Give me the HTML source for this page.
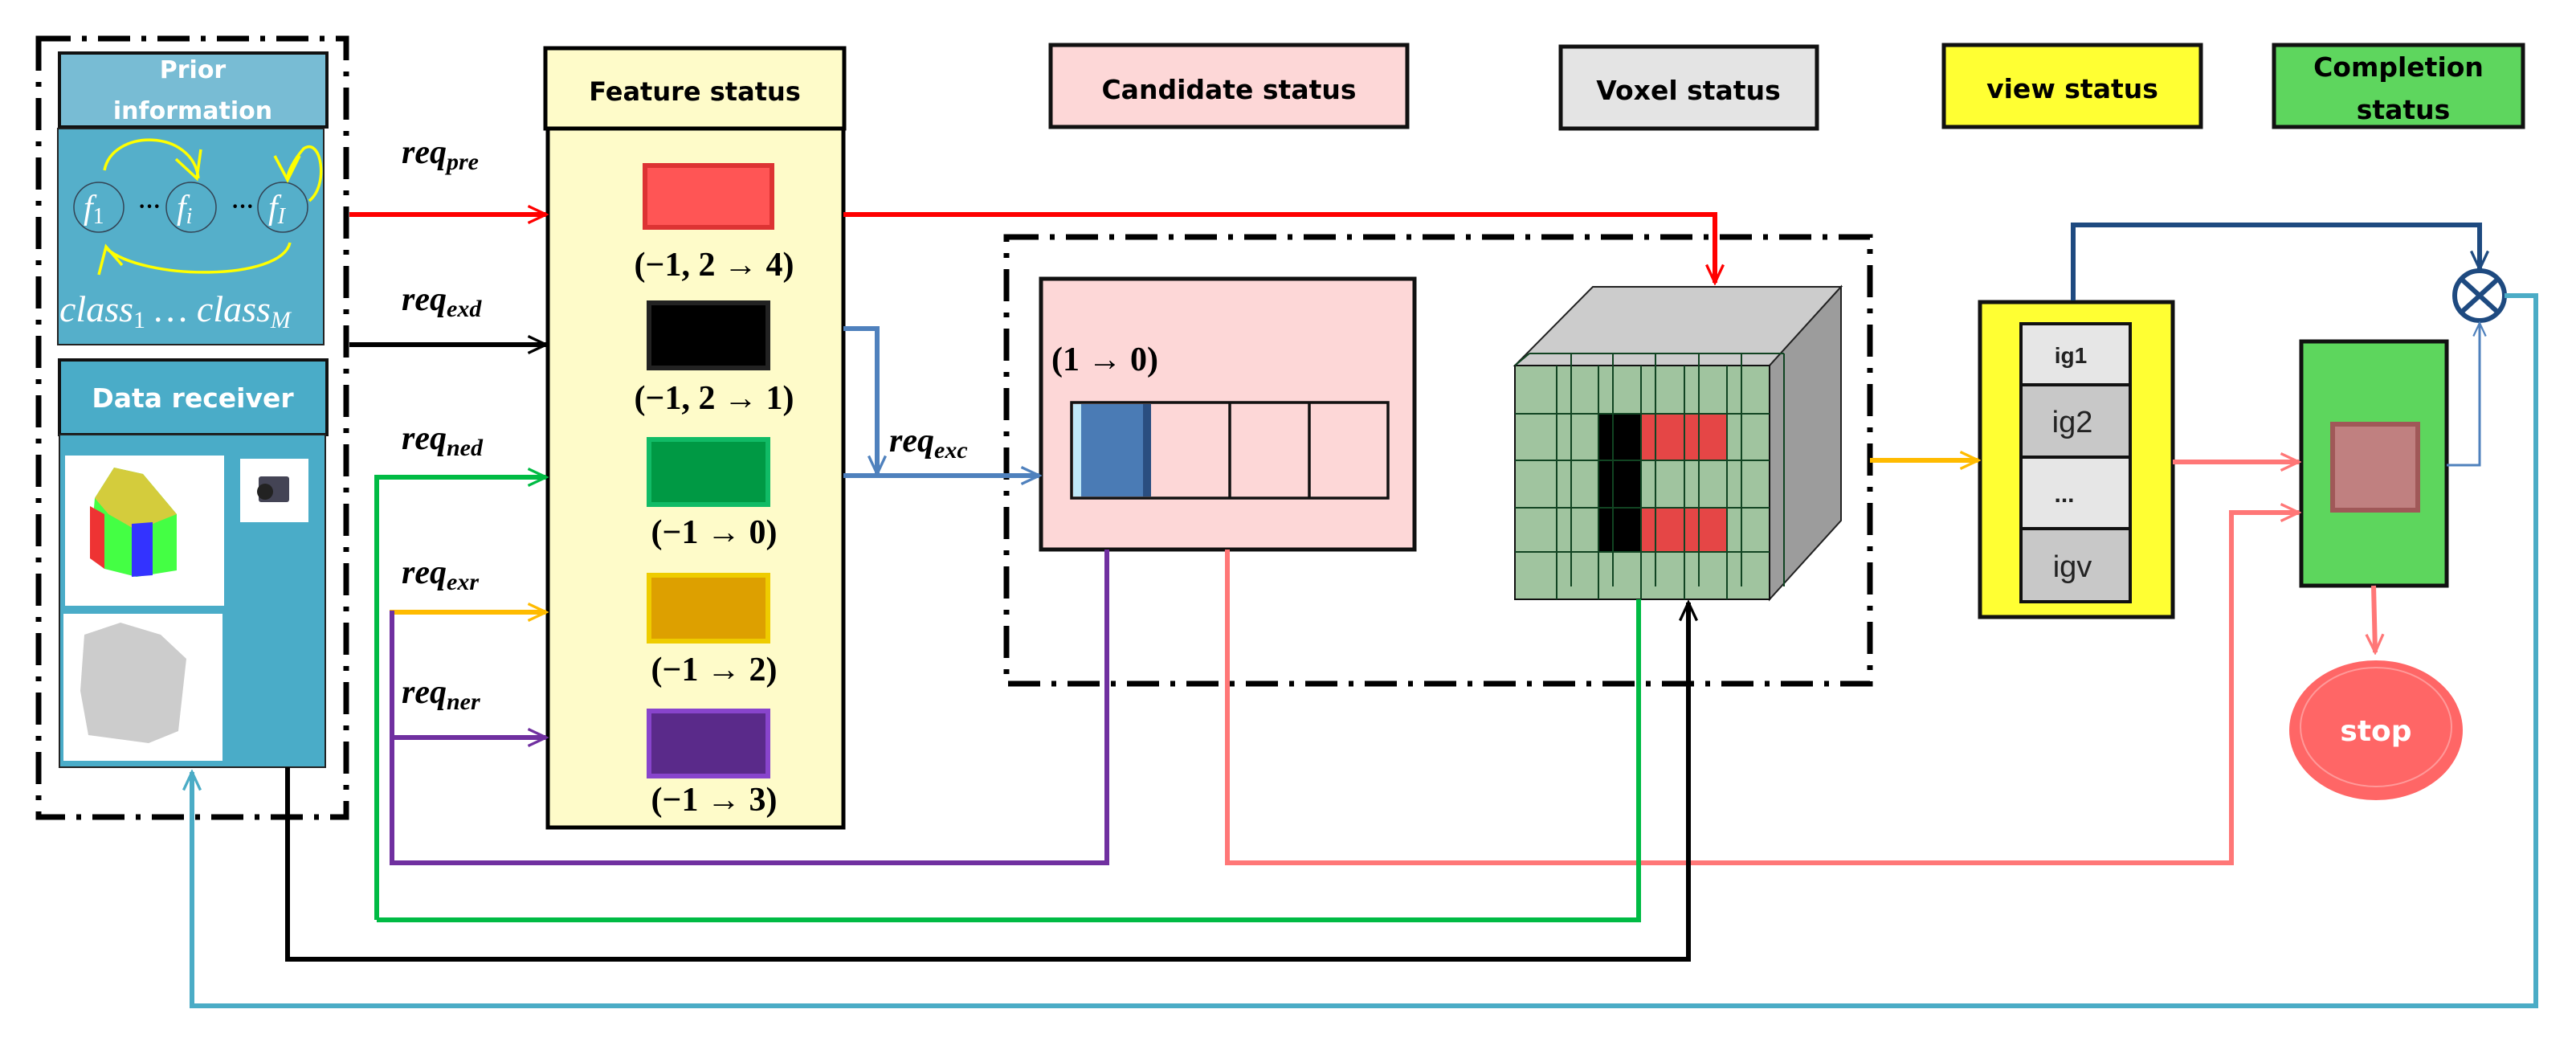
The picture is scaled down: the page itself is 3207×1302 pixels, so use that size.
<!DOCTYPE html>
<html><head><meta charset="utf-8"><style>
html,body{margin:0;padding:0;background:#fff;}
svg{display:block;}
.hb{font-family:"DejaVu Sans","Liberation Sans",sans-serif;font-weight:bold;}
.m{font-family:"Liberation Serif","DejaVu Serif",serif;font-weight:bold;}
.mi{font-family:"Liberation Serif","DejaVu Serif",serif;font-weight:bold;font-style:italic;}
</style></head><body>
<svg width="3207" height="1302" viewBox="0 0 3207 1302" xmlns="http://www.w3.org/2000/svg">
<defs>
<marker id="ah" viewBox="0 0 20 20" refX="18" refY="10" markerWidth="30" markerHeight="30" markerUnits="userSpaceOnUse" orient="auto"><path d="M3,3 L18,10 L3,17" fill="none" stroke="context-stroke" stroke-width="2.2"/></marker>
<marker id="ahs" viewBox="0 0 20 20" refX="18" refY="10" markerWidth="22" markerHeight="22" markerUnits="userSpaceOnUse" orient="auto"><path d="M3,3 L18,10 L3,17" fill="none" stroke="context-stroke" stroke-width="2"/></marker>
</defs>
<g fill="none" stroke-width="6">
<rect x="48" y="48" width="383" height="969" stroke="#000" stroke-width="7" stroke-dasharray="40,14,6,14"/>
<rect x="1253" y="295" width="1075" height="556" stroke="#000" stroke-width="7" stroke-dasharray="40,14,6,14"/>
</g>

<!-- Prior information -->
<rect x="74" y="66" width="333" height="92" fill="#78bcd4" stroke="#111" stroke-width="4"/>
<text x="240" y="97" class="hb" font-size="30" fill="#fff" text-anchor="middle">Prior</text>
<text x="240" y="148" class="hb" font-size="30" fill="#fff" text-anchor="middle">information</text>
<rect x="72" y="160" width="331" height="269" fill="#55afca" stroke="#222" stroke-width="2"/>
<g stroke="#345" stroke-width="1.5" fill="none"><circle cx="123" cy="258" r="31"/><circle cx="238" cy="258" r="31"/><circle cx="352" cy="258" r="31"/></g>
<g font-family="Liberation Serif,serif" font-style="italic" fill="#fff">
<text x="104" y="272" font-size="42">f<tspan font-size="28" font-style="normal" dy="6">1</tspan></text>
<text x="220" y="272" font-size="42">f<tspan font-size="28" dy="6">i</tspan></text>
<text x="334" y="272" font-size="42">f<tspan font-size="28" dy="6">I</tspan></text>
<text x="74" y="400" font-size="46">class<tspan font-size="30" font-style="normal" dy="8">1</tspan><tspan dy="-8"> … </tspan>class<tspan font-size="30" dy="8">M</tspan></text>
</g>
<text x="172" y="266" font-size="28" font-weight="bold" fill="#000">···</text>
<text x="288" y="266" font-size="28" font-weight="bold" fill="#000">···</text>
<g stroke="#ff0" stroke-width="3.5" fill="none">
<path d="M130,212 C140,160 240,160 247,222"/><path d="M219,198 L245,222 L250,186"/>
<path d="M385,250 C410,230 400,170 378,185 C365,200 358,215 358,222"/><path d="M342,194 L358,224 L373,194"/>
<path d="M361,302 C350,350 180,350 132,309"/><path d="M123,342 L132,307 L152,330"/>
</g>

<!-- Data receiver -->
<rect x="74" y="448" width="333" height="93" fill="#4aacc8" stroke="#111" stroke-width="4"/>
<text x="240" y="507" class="hb" font-size="33" fill="#fff" text-anchor="middle">Data receiver</text>
<rect x="74" y="541" width="331" height="414" fill="#4aacc8" stroke="#222" stroke-width="2"/>
<rect x="81" y="567" width="198" height="187" fill="#fff"/>
<polygon points="118,620 142,582 178,590 220,640 220,710 170,718 130,708 112,690" fill="#4f4"/>
<polygon points="118,620 142,582 178,590 220,640 170,660 135,640" fill="#d4cc3c"/>
<polygon points="112,630 130,640 130,708 112,695" fill="#e33"/>
<polygon points="164,652 190,650 190,716 164,718" fill="#33f"/>
<rect x="299" y="571" width="85" height="79" fill="#fff"/>
<rect x="322" y="593" width="38" height="32" fill="#445" rx="3"/><circle cx="330" cy="612" r="10" fill="#222"/>
<rect x="79" y="764" width="198" height="183" fill="#fff"/>
<polygon points="105,790 150,775 200,790 232,820 222,910 185,925 110,915 100,860" fill="#ccc"/>

<!-- Feature status -->
<rect x="679" y="60" width="372" height="100" fill="#fefbc9" stroke="#000" stroke-width="5"/>
<text x="865" y="125" class="hb" font-size="32" fill="#000" text-anchor="middle">Feature status</text>
<rect x="682" y="160" width="368" height="870" fill="#fefbc9" stroke="#000" stroke-width="5"/>
<g stroke-width="6">
<rect x="803" y="206" width="158" height="77" fill="#f55" stroke="#d33"/>
<rect x="808" y="377" width="148" height="81" fill="#000" stroke="#222"/>
<rect x="808" y="547" width="148" height="81" fill="#094" stroke="#1b6"/>
<rect x="808" y="716" width="148" height="82" fill="#dda000" stroke="#ec0"/>
<rect x="808" y="885" width="148" height="81" fill="#5a2a8a" stroke="#84c"/>
</g>
<g class="m" font-size="42" fill="#000" text-anchor="middle">
<text x="889" y="343">(−1, 2 → 4)</text>
<text x="889" y="509">(−1, 2 → 1)</text>
<text x="889" y="676">(−1 → 0)</text>
<text x="889" y="847">(−1 → 2)</text>
<text x="889" y="1009">(−1 → 3)</text>
</g>

<!-- req labels -->
<g class="mi" font-size="42" fill="#000">
<text x="500" y="203">req<tspan font-size="30" dy="8">pre</tspan></text>
<text x="500" y="386">req<tspan font-size="30" dy="8">exd</tspan></text>
<text x="500" y="559">req<tspan font-size="30" dy="8">ned</tspan></text>
<text x="500" y="726">req<tspan font-size="30" dy="8">exr</tspan></text>
<text x="500" y="875">req<tspan font-size="30" dy="8">ner</tspan></text>
<text x="1107" y="562">req<tspan font-size="30" dy="8">exc</tspan></text>
</g>

<!-- Candidate status -->
<rect x="1308" y="56" width="444" height="102" fill="#fdd7d7" stroke="#111" stroke-width="5"/>
<text x="1530" y="123" class="hb" font-size="33" fill="#000" text-anchor="middle">Candidate  status</text>
<rect x="1296" y="347" width="465" height="337" fill="#fdd7d7" stroke="#111" stroke-width="5"/>
<text x="1309" y="461" class="m" font-size="42" fill="#000">(1 → 0)</text>
<rect x="1334" y="501" width="394" height="119" fill="none" stroke="#111" stroke-width="3.5"/>
<line x1="1531" y1="501" x2="1531" y2="620" stroke="#111" stroke-width="3.5"/>
<line x1="1630" y1="501" x2="1630" y2="620" stroke="#111" stroke-width="3.5"/>
<rect x="1336" y="503" width="97" height="115" fill="#4a7bb5"/>
<rect x="1336" y="503" width="10" height="115" fill="#bfe8f8"/>
<rect x="1423" y="503" width="10" height="115" fill="#2a4e80"/>

<!-- Voxel status -->
<rect x="1943" y="58" width="319" height="102" fill="#e4e4e4" stroke="#111" stroke-width="5"/>
<text x="2102" y="124" class="hb" font-size="33" fill="#000" text-anchor="middle">Voxel status</text>
<polygon points="1886,455 1983,357 2292,357 2203,455" fill="#ccc" stroke="#222" stroke-width="2"/>
<polygon points="2203,455 2292,357 2292,648 2203,746" fill="#9c9c9c" stroke="#222" stroke-width="2"/>
<rect x="1886" y="455" width="317" height="291" fill="#a0c49f" stroke="#111" stroke-width="2"/>
<rect x="1990" y="515" width="53" height="172" fill="#000"/>
<rect x="2043" y="515" width="107" height="58" fill="#e54646"/>
<rect x="2043" y="632" width="107" height="55" fill="#e54646"/>
<g stroke="#142" stroke-width="2" fill="none">
<line x1="1938" y1="455" x2="1938" y2="746"/><line x1="1990" y1="455" x2="1990" y2="746"/><line x1="2043" y1="455" x2="2043" y2="746"/><line x1="2097" y1="455" x2="2097" y2="746"/><line x1="2150" y1="455" x2="2150" y2="746"/>
<line x1="1886" y1="515" x2="2203" y2="515"/><line x1="1886" y1="573" x2="2203" y2="573"/><line x1="1886" y1="632" x2="2203" y2="632"/><line x1="1886" y1="687" x2="2203" y2="687"/>
<line x1="1956" y1="440" x2="1956" y2="730"/><line x1="2008" y1="440" x2="2008" y2="730"/><line x1="2061" y1="440" x2="2061" y2="730"/><line x1="2115" y1="440" x2="2115" y2="730"/><line x1="2168" y1="440" x2="2168" y2="730"/><line x1="2221" y1="440" x2="2221" y2="730"/>
<line x1="1886" y1="455" x2="1904" y2="440"/><line x1="1904" y1="440" x2="2221" y2="440"/>
</g>

<!-- view status -->
<rect x="2420" y="56" width="320" height="102" fill="#ffff33" stroke="#111" stroke-width="5"/>
<text x="2580" y="122" class="hb" font-size="33" fill="#000" text-anchor="middle">view status</text>
<rect x="2465" y="376" width="240" height="392" fill="#ffff33" stroke="#111" stroke-width="5"/>
<g stroke="#111" stroke-width="4">
<rect x="2516" y="403" width="136" height="76" fill="#e6e6e6"/>
<rect x="2516" y="479" width="136" height="90" fill="#c8c8c8"/>
<rect x="2516" y="569" width="136" height="89" fill="#e6e6e6"/>
<rect x="2516" y="658" width="136" height="91" fill="#c8c8c8"/>
</g>
<g font-family="Liberation Sans,sans-serif" fill="#222" text-anchor="middle">
<text x="2578" y="452" font-size="28" font-weight="bold">ig1</text>
<text x="2580" y="538" font-size="38">ig2</text>
<text x="2570" y="625" font-size="30" font-weight="bold">...</text>
<text x="2580" y="718" font-size="38">igv</text>
</g>

<!-- Completion status -->
<rect x="2831" y="56" width="310" height="102" fill="#5ed65e" stroke="#111" stroke-width="5"/>
<text x="2986" y="95" class="hb" font-size="33" fill="#000" text-anchor="middle">Completion</text>
<text x="2992" y="148" class="hb" font-size="33" fill="#000" text-anchor="middle">status</text>
<rect x="2865" y="425" width="181" height="304" fill="#5dd65d" stroke="#111" stroke-width="5"/>
<rect x="2904" y="528" width="106" height="107" fill="#c08080" stroke="#a05858" stroke-width="6"/>
<ellipse cx="2958" cy="909" rx="108" ry="87" fill="#f66"/>
<ellipse cx="2958" cy="905" rx="94" ry="74" fill="none" stroke="#f99" stroke-width="2"/>
<text x="2958" y="922" class="hb" font-size="36" fill="#fff" text-anchor="middle">stop</text>

<circle cx="3087" cy="368" r="31" fill="#fff" stroke="#1e4a80" stroke-width="6"/>
<line x1="3065" y1="348" x2="3109" y2="388" stroke="#1e4a80" stroke-width="6"/>
<line x1="3109" y1="348" x2="3065" y2="388" stroke="#1e4a80" stroke-width="6"/>

<g fill="none" stroke-width="6">
<path d="M435,267 H680" stroke="#f00" marker-end="url(#ah)"/>
<path d="M435,429 H680" stroke="#000" marker-end="url(#ah)"/>
<path d="M469,1145 V594 H680" stroke="#0b4" marker-end="url(#ah)"/>
<path d="M488,918 V762 H680" stroke="#fb0" marker-end="url(#ah)"/>
<path d="M488,760 V1074 H1378 V684" stroke="#7030a0"/>
<path d="M488,918 H680" stroke="#7030a0" marker-end="url(#ah)"/>
<path d="M1050,267 H2135 V352" stroke="#f00" marker-end="url(#ah)"/>
<path d="M1050,409 H1092 V590" stroke="#4f81bd" marker-end="url(#ah)"/>
<path d="M1050,592 H1294" stroke="#4f81bd" marker-end="url(#ah)"/>
<path d="M1528,684 V1074 H2778 V638 H2862" stroke="#f77" marker-end="url(#ah)"/>
<path d="M2705,575 H2862" stroke="#f77" marker-end="url(#ah)"/>
<path d="M2955,729 L2957,812" stroke="#f77" marker-end="url(#ah)"/>
<path d="M2040,746 V1145 H469" stroke="#0b4"/>
<path d="M358,955 V1194 H2102 V750" stroke="#000" marker-end="url(#ah)"/>
<path d="M2328,573 H2463" stroke="#fb0" marker-end="url(#ah)"/>
<path d="M2581,374 V280 H3087 V335" stroke="#1e4a80" marker-end="url(#ah)"/>
<path d="M3118,368 H3157 V1252 H239 V961" stroke="#4bacc6" marker-end="url(#ah)"/>
<path d="M3046,579 H3087 V402" stroke="#4f81bd" stroke-width="3" marker-end="url(#ahs)"/>
</g>
</svg>
</body></html>
